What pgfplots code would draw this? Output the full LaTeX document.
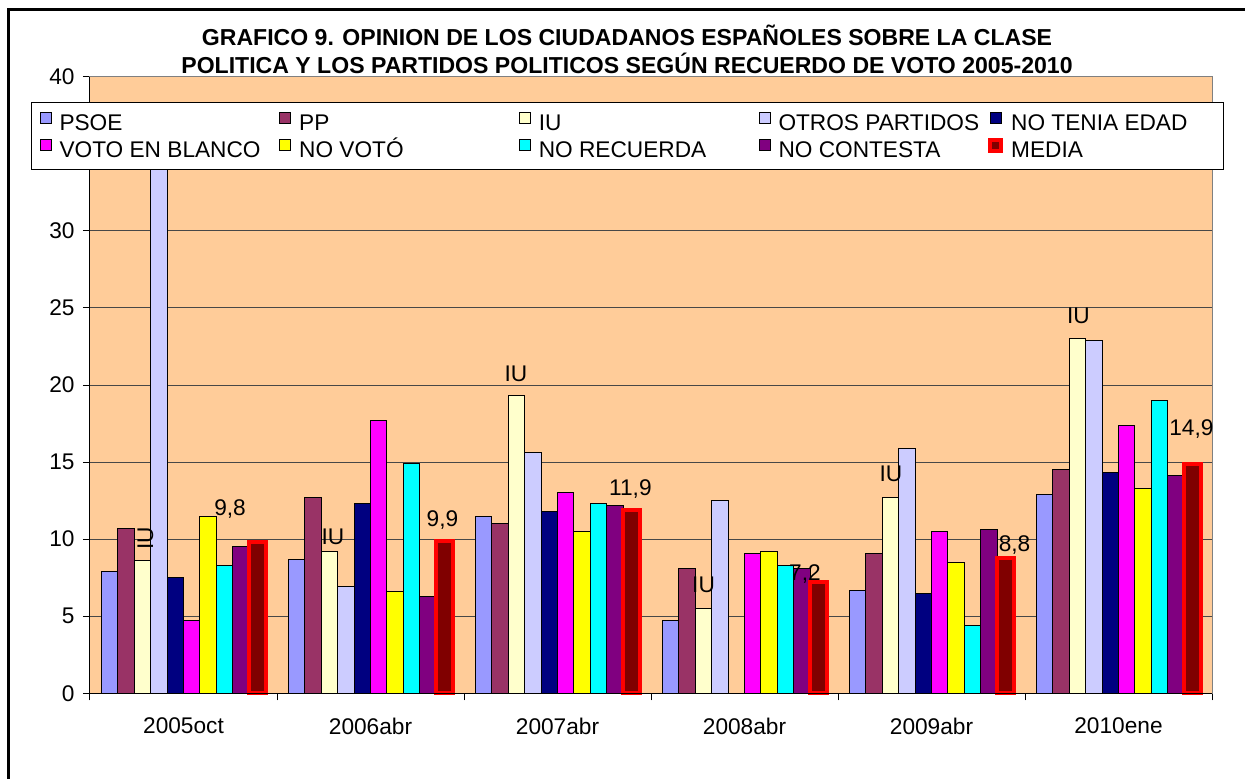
\documentclass[border=0pt]{standalone}
\usepackage{pgfplots}
\pgfplotsset{compat=1.18}
\usepackage{fontspec}
\setmainfont{Liberation Sans}
\definecolor{peach}{HTML}{FFCC99}
\definecolor{cPSOE}{HTML}{9999FF}
\definecolor{cPP}{HTML}{993366}
\definecolor{cIU}{HTML}{FFFFCC}
\definecolor{cOTROS}{HTML}{CCCCFF}
\definecolor{cEDAD}{HTML}{000080}
\definecolor{cBLANCO}{HTML}{FF00FF}
\definecolor{cNOVOTO}{HTML}{FFFF00}
\definecolor{cRECUERDA}{HTML}{00FFFF}
\definecolor{cCONTESTA}{HTML}{800080}
\definecolor{cMEDIA}{HTML}{800000}
\newcommand{\fs}{\fontsize{17}{20}\selectfont}
\newcommand{\tfs}{\fontsize{17.3}{20}\selectfont\bfseries}
\newcommand{\lb}[1]{\makebox[158.75pt][l]{#1}}
\newcommand{\lbf}[1]{\makebox[151.25pt][l]{#1}}
\newcommand{\lbl}[1]{\makebox[147.5pt][l]{#1}}

\begin{document}
\begin{tikzpicture}
\path[use as bounding box] (-67.5pt,-63.525pt) rectangle (866.25pt,519.975pt);
\draw[line width=2.25pt] (-60.75pt,-70pt) -- (-60.75pt,512.5pt) -- (875pt,512.5pt);
\begin{axis}[
  at={(0pt,0pt)}, anchor=south west,
  scale only axis, width=841.5pt, height=462.45pt,
  xmin=-0.5, xmax=5.5, ymin=0, ymax=40,
  clip=false,
  ybar=0pt, bar width=0.088,
  axis background/.style={fill=peach},
  axis line style={draw=black!50, line width=0.75pt},
  ytick={0,5,...,40},
  ymajorgrids,
  major y grid style={draw=black!72, line width=0.75pt},
  xtick={0,...,5},
  xticklabels={2005oct,2006abr,2007abr,2008abr,2009abr,2010ene},
  minor xtick={-0.5,0.5,...,5.5},
  tick pos=left,
  tick align=outside,
  major tick length=5.25pt, minor tick length=5.25pt,
  major x tick style={draw=none},
  tick style={draw=black, line width=0.75pt},
  ticklabel style={font=\fs},
  yticklabel style={xshift=-2.8pt},
  xticklabel style={yshift=-9.5pt},
  /pgf/number format/assume math mode=true,
  legend columns=5,
  legend cell align=left,
  legend image code/.code={\draw[#1] (0pt,-0.75pt) rectangle (8.25pt,7.5pt);},
  legend style={
    at={(axis description cs:-0.05258,0.9590)}, anchor=north west,
    draw=black, line width=0.75pt, fill=white,
    font=\fs,
    inner xsep=6pt, inner ysep=5pt,
    row sep=0pt, column sep=0pt,
    nodes={inner xsep=6pt, inner ysep=0pt, text height=15.75pt, text depth=4.5pt},
  },
]
\addplot[fill=cPSOE, draw=black, line width=0.75pt] coordinates {(0,7.9) (1,8.7) (2,11.5) (3,4.7) (4,6.7) (5,12.9)};
\addplot[fill=cPP, draw=black, line width=0.75pt] coordinates {(0,10.7) (1,12.7) (2,11.0) (3,8.1) (4,9.1) (5,14.5)};
\addplot[fill=cIU, draw=black, line width=0.75pt] coordinates {(0,8.6) (1,9.2) (2,19.3) (3,5.5) (4,12.7) (5,23.0)};
\addplot[fill=cOTROS, draw=black, line width=0.75pt] coordinates {(0,36.0) (1,6.9) (2,15.6) (3,12.5) (4,15.9) (5,22.9)};
\addplot[fill=cEDAD, draw=black, line width=0.75pt] coordinates {(0,7.5) (1,12.3) (2,11.8) (4,6.5) (5,14.3)};
\addplot[fill=cBLANCO, draw=black, line width=0.75pt] coordinates {(0,4.7) (1,17.7) (2,13.0) (3,9.1) (4,10.5) (5,17.4)};
\addplot[fill=cNOVOTO, draw=black, line width=0.75pt] coordinates {(0,11.5) (1,6.6) (2,10.5) (3,9.2) (4,8.5) (5,13.3)};
\addplot[fill=cRECUERDA, draw=black, line width=0.75pt] coordinates {(0,8.3) (1,14.9) (2,12.3) (3,8.3) (4,4.4) (5,19.0)};
\addplot[fill=cCONTESTA, draw=black, line width=0.75pt] coordinates {(0,9.5) (1,6.3) (2,12.2) (3,8.1) (4,10.6) (5,14.1)};
\addplot[fill=cMEDIA, draw=red, line width=3pt] coordinates {(0,9.8) (1,9.9) (2,11.9) (3,7.2) (4,8.8) (5,14.9)};
\legend{\lb{PSOE},\lb{PP},\lb{IU},\lbf{OTROS PARTIDOS},\lbl{NO TENIA EDAD},\lb{VOTO EN BLANCO},\lb{NO VOTÓ},\lb{NO RECUERDA},\lbf{NO CONTESTA},\lbl{MEDIA}}
\draw[black, line width=0.75pt] (rel axis cs:0,1) -- (rel axis cs:0,0) -- (rel axis cs:1,0);
\begin{scope}[every node/.style={font=\fs, text height=12.2pt, text depth=0pt, inner sep=0pt}]
\node[rotate=90] at (axis cs:-0.206,10.07) {IU};
\node at (axis cs:0.799,10.16) {IU};
\node at (axis cs:1.778,20.76) {IU};
\node at (axis cs:2.781,7.07) {IU};
\node at (axis cs:3.783,14.24) {IU};
\node at (axis cs:4.786,24.54) {IU};
\node at (axis cs:0.2487,12.09) {9,8};
\node at (axis cs:1.385,11.37) {9,9};
\node at (axis cs:2.390,13.38) {11,9};
\node at (axis cs:3.323,7.84) {7,2};
\node at (axis cs:4.444,9.73) {8,8};
\node at (axis cs:5.390,17.22) {14,9};
\end{scope}
\node[font=\tfs, anchor=base] at (axis description cs:0.4786,1.0514) {GRAFICO 9. OPINION DE LOS CIUDADANOS ESPAÑOLES SOBRE LA CLASE};
\node[font=\tfs, anchor=base] at (axis description cs:0.4786,1.0044) {POLITICA Y LOS PARTIDOS POLITICOS SEGÚN RECUERDO DE VOTO 2005-2010};
\end{axis}
\end{tikzpicture}
\end{document}
